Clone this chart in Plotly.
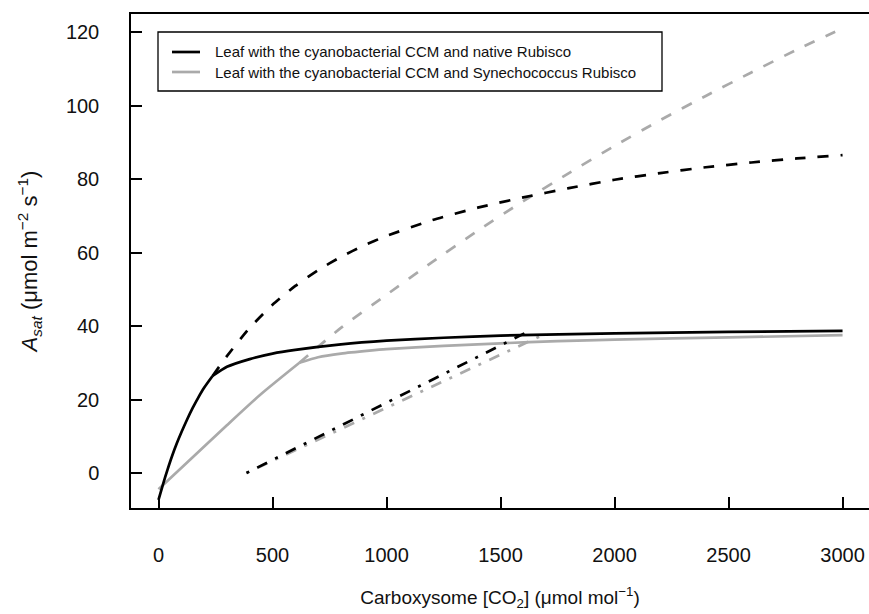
import plotly.graph_objects as go

# ---------------- data ----------------
# Leaf with the cyanobacterial CCM and native Rubisco (black)
blk_rub_x = [0, 20, 40, 60, 80, 100, 125, 150, 175, 200, 237]
blk_rub_y = [-7.3, -3.0, 1.0, 4.7, 8.0, 11.0, 14.5, 17.7, 20.6, 23.2, 26.4]
blk_sat_x = [237, 300, 400, 500, 600, 800, 1000, 1250, 1500, 2000, 2500, 3000]
blk_sat_y = [26.4, 28.9, 31.0, 32.5, 33.5, 35.0, 36.0, 36.8, 37.4, 38.0, 38.4, 38.7]
blk_dash_x = [237, 300, 400, 500, 600, 700, 800, 900, 1000, 1200, 1400, 1600,
              1800, 2000, 2200, 2400, 2600, 2800, 3000]
blk_dash_y = [26.4, 31.8, 39.5, 45.8, 50.9, 55.2, 58.8, 61.9, 64.5, 68.8, 72.2, 75.0,
              77.5, 79.8, 81.6, 83.2, 84.5, 85.6, 86.5]
blk_dd_x = [386, 1605]
blk_dd_y = [0.0, 38.0]

# Leaf with the cyanobacterial CCM and Synechococcus Rubisco (grey)
gry_rub_x = [0, 150, 300, 450, 618]
gry_rub_y = [-4.4, 4.3, 13.0, 21.5, 30.0]
gry_sat_x = [618, 700, 800, 925, 1000, 1250, 1500, 1750, 2000, 2500, 3000]
gry_sat_y = [30.0, 31.5, 32.5, 33.3, 33.7, 34.6, 35.3, 35.9, 36.3, 36.9, 37.5]
gry_dash_x = [618, 800, 1000, 1200, 1400, 1600, 1800, 2000, 2200, 2400, 2600, 2800, 3000]
gry_dash_y = [30.0, 39.5, 48.5, 57.4, 65.9, 74.0, 81.6, 89.0, 96.0, 102.6, 109.0, 115.2, 121.0]
gry_dd_x = [385, 1680]
gry_dd_y = [0.0, 37.4]

x_ticks = [0, 500, 1000, 1500, 2000, 2500, 3000]
y_ticks = [0, 20, 40, 60, 80, 100, 120]
legend_labels = ["Leaf with the cyanobacterial CCM and native Rubisco",
                 "Leaf with the cyanobacterial CCM and Synechococcus Rubisco"]

# ---------------- styling ----------------
W, H = 869, 614
ML, MR, MT, MB = 131, 0, 14, 106
PW, PH = W - ML - MR, H - MT - MB
BLACK = "#000000"
GREY = "#aaaaaa"
LW = 2.7
FONT = "Liberation Sans, Arial, sans-serif"
DASH = "11px,12px"
DOTDASH = "3px,9px,11px,9px"

fig = go.Figure()

def add(x, y, color, dash="solid", shape="spline"):
    fig.add_trace(go.Scatter(x=x, y=y, mode="lines", showlegend=False, hoverinfo="skip",
                             line=dict(color=color, width=LW, dash=dash, shape=shape,
                                       smoothing=0.6 if shape == "spline" else None)))

# grey first, black on top
add(gry_dash_x, gry_dash_y, GREY, DASH)
add(gry_dd_x, gry_dd_y, GREY, DOTDASH, "linear")
add(gry_rub_x, gry_rub_y, GREY)
add(gry_sat_x, gry_sat_y, GREY)
add(blk_dash_x, blk_dash_y, BLACK, DASH)
add(blk_dd_x, blk_dd_y, BLACK, DOTDASH, "linear")
add(blk_rub_x, blk_rub_y, BLACK)
add(blk_sat_x, blk_sat_y, BLACK)

def px(xpix):
    return (xpix - ML) / PW

def py(ypix):
    return (H - MB - ypix) / PH

# manual legend box (R style)
shapes = [dict(type="rect", xref="paper", yref="paper",
               x0=px(158), x1=px(662), y0=py(91), y1=py(32),
               line=dict(color=BLACK, width=1.3), fillcolor="white", layer="below")]
annotations = []
for i, (lab, col) in enumerate(zip(legend_labels, [BLACK, GREY])):
    yy = 52 + 20 * i
    shapes.append(dict(type="line", xref="paper", yref="paper",
                       x0=px(172), x1=px(200), y0=py(yy), y1=py(yy),
                       line=dict(color=col, width=LW)))
    annotations.append(dict(xref="paper", yref="paper", x=px(213), y=py(yy),
                            xanchor="left", yanchor="middle", showarrow=False,
                            text=lab, font=dict(family=FONT, size=15, color="#111111")))

axis_common = dict(showgrid=False, zeroline=False, showline=True, linecolor=BLACK,
                   linewidth=1.5, mirror=True, ticks="inside", ticklen=11, tickwidth=1.5,
                   tickcolor=BLACK, tickfont=dict(family=FONT, size=20, color="#111111"))

fig.update_layout(
    width=W, height=H,
    margin=dict(l=ML, r=MR, t=MT, b=MB, autoexpand=False),
    paper_bgcolor="white", plot_bgcolor="white",
    showlegend=False,
    shapes=shapes, annotations=annotations,
    xaxis=dict(range=[-120.6, 3116], tickvals=x_ticks, ticklabelstandoff=28,
               title=dict(text="Carboxysome [CO<sub>2</sub>] (μmol mol<sup>−1</sup>)",
                          font=dict(family=FONT, size=19, color="#111111"), standoff=26),
               **axis_common),
    yaxis=dict(range=[-9.52, 124.9], tickvals=y_ticks, ticklabelstandoff=26,
               title=dict(text="<i>A</i><sub><i>sat</i></sub> (μmol m<sup>−2</sup> s<sup>−1</sup>)",
                          font=dict(family=FONT, size=22, color="#111111"), standoff=22),
               **axis_common),
)

fig.write_html("out.html")
